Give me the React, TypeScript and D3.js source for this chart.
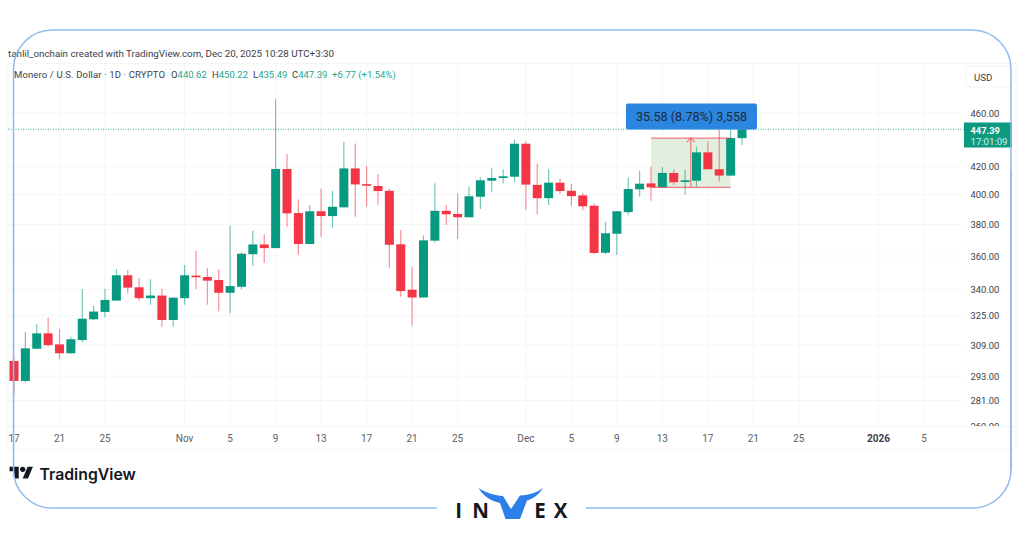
import React from "react";
import * as d3 from "d3";

const firstDay = "2025-10-17";
const opens = [300.7,290.6,307.1,315.3,309.4,304.7,311.7,323.0,327.1,333.5,348.3,341.2,334.9,336.4,322.6,334.9,348.1,347.3,345.5,338.0,341.5,361.1,367.2,364.9,417.9,387.5,367.5,388.7,385.5,391.3,418.3,407.2,405.9,402.6,367.3,339.8,335.3,369.6,389.0,386.9,384.7,398.5,409.6,411.5,412.4,436.4,406.7,397.5,408.2,402.6,399.4,392.4,362.0,374.0,388.1,403.6,407.7,405.0,415.1,408.7,409.6,430.0,417.7,413.2,440.62];
const highs = [303.0,316.2,320.2,323.9,317.6,313.5,340.0,330.5,340.4,352.1,351.5,346.5,345.9,340.2,335.2,354.5,363.3,352.5,351.9,379.2,362.3,375.9,373.6,470.9,428.7,396.8,392.9,404.0,402.6,437.6,436.5,420.1,414.4,404.0,376.4,353.1,373.0,407.8,392.9,400.8,405.4,412.1,418.4,417.7,439.3,438.3,421.9,417.7,411.3,407.5,400.8,394.0,381.6,388.7,411.5,416.7,419.6,419.6,417.7,417.2,433.8,438.3,447.1,447.4,450.22];
const lows = [284.0,290.0,306.9,308.1,301.6,304.7,310.5,322.6,324.1,333.5,337.7,333.5,331.2,318.9,318.9,331.2,340.2,331.2,327.5,326.4,340.0,353.9,355.9,364.9,378.5,360.6,367.5,372.1,377.9,391.3,385.1,391.7,393.0,352.5,335.8,319.5,335.3,368.5,379.7,370.6,384.7,390.2,401.9,407.7,408.6,389.5,386.7,392.9,400.6,392.4,389.3,361.1,361.1,360.6,386.0,398.5,395.8,405.0,406.6,400.1,405.4,417.7,409.1,413.2,435.49];
const closes = [290.6,307.3,315.3,309.0,304.7,312.1,323.3,327.3,333.9,348.3,341.0,334.9,336.4,322.6,335.2,348.3,347.1,345.1,338.0,341.9,361.4,367.2,364.9,417.9,387.3,367.5,388.7,385.5,391.7,418.3,407.0,406.1,402.4,367.0,339.0,335.3,369.8,389.0,386.7,384.7,398.8,409.9,411.5,412.7,436.4,406.9,397.5,408.2,402.4,398.9,392.0,361.9,374.3,388.7,403.8,407.5,405.0,415.1,408.5,409.9,430.0,417.7,413.2,440.7,447.39];

const priceTicks = [460,420,400,380,360,340,325,309,293,281,269];
const dateTickDays = ["2025-10-17","2025-10-21","2025-10-25","2025-11-01","2025-11-05","2025-11-09","2025-11-13","2025-11-17","2025-11-21","2025-11-25","2025-12-01","2025-12-05","2025-12-09","2025-12-13","2025-12-17","2025-12-21","2025-12-25","2026-01-01","2026-01-05"];
const dateTickLabels = ["17","21","25","Nov","5","9","13","17","21","25","Dec","5","9","13","17","21","25","2026","5"];
const boldTicks = ["2026"];
const lastPrice = 447.39;
const measureFrom = "2025-12-12";
const measureTo = "2025-12-19";
const measureLow = 405.0;
const measureHigh = 440.6;
const measureText = "35.58 (8.78%) 3,558";
const headerLine = "tahlil_onchain created with TradingView.com, Dec 20, 2025 10:28 UTC+3:30";
const symbolLine = "Monero / U.S. Dollar · 1D · CRYPTO";
const ohlc = [["O","440.62",171],["H","450.22",212],["L","435.49",253],["C","447.39",292]] as const;
const changeText = "+6.77 (+1.54%)";

const GREEN = "#089981", RED = "#f23645", GRID = "#f4f5f6", TEXT = "#3a3e4a", FRAME = "#8fbbf0", BLUE = "#2b86e0";
const UI = "Roboto, 'Open Sans', sans-serif";

const day = (s: string) => new Date(s + "T00:00:00Z");
const x = d3.scaleUtc().domain([day("2025-10-17"), day("2026-01-05")]).range([14, 924]);
const y = d3.scaleLog().domain([460, 269]).range([113, 426]);
const candles = opens.map((o, i) => ({
  date: d3.utcDay.offset(day(firstDay), i), o, h: highs[i], l: lows[i], c: closes[i],
}));
const BW = 9;

export default function App() {
  const mx0 = x(day(measureFrom)), mx1 = x(day(measureTo));
  const my0 = y(measureHigh), my1 = y(measureLow);
  const mxc = (mx0 + mx1) / 2;
  return (
    <svg width={1024} height={538} viewBox="0 0 1024 538" style={{ position: "absolute", left: 0, top: 0, background: "#fff" }}>
      <defs>
        <clipPath id="pane"><rect x={0} y={64} width={1024} height={362} /></clipPath>
      </defs>
      {/* panel borders */}
      <g stroke={GRID} fill="none">
        <line x1={8} x2={1016} y1={63.5} y2={63.5} />
        <line x1={8} x2={1016} y1={426.5} y2={426.5} />
        <line x1={8} x2={1016} y1={450} y2={450} />
        <line x1={8} x2={8} y1={64} y2={450} />
        <line x1={1016} x2={1016} y1={64} y2={450} />
      </g>
      {/* grid */}
      <g stroke={GRID}>
        {priceTicks.slice(0, -1).map(p => <line key={p} x1={8} x2={962} y1={y(p)} y2={y(p)} />)}
        {dateTickDays.map(d => <line key={d} x1={x(day(d))} x2={x(day(d))} y1={64} y2={426} />)}
      </g>
      {/* last price line */}
      <line x1={8} x2={964} y1={y(lastPrice)} y2={y(lastPrice)} stroke={GREEN} strokeWidth={1} strokeDasharray="1 1.5" opacity={0.8} />
      {/* measure fill */}
      <rect x={mx0} y={my0} width={mx1 - mx0} height={my1 - my0} fill="#e2efdf" />
      {/* candles */}
      <g>
        {candles.map((c, i) => {
          const col = c.c >= c.o ? GREEN : RED;
          const cx = x(c.date);
          const top = y(Math.max(c.o, c.c)), bot = y(Math.min(c.o, c.c));
          return (
            <g key={i}>
              <line x1={cx} x2={cx} y1={y(c.h)} y2={y(c.l)} stroke={col} strokeWidth={1.2} opacity={0.55} />
              <rect x={cx - BW / 2} y={top} width={BW} height={Math.max(bot - top, 1.5)} fill={col} />
            </g>
          );
        })}
      </g>
      {/* measure lines */}
      <g stroke={RED} strokeOpacity={0.65} fill="none" strokeWidth={1.2}>
        <line x1={mx0} x2={mx1} y1={my0} y2={my0} />
        <line x1={mx0} x2={mx1} y1={my1} y2={my1} />
        <line x1={mxc} x2={mxc} y1={my0} y2={my1} />
        <path d={`M${mxc - 4},${my0 + 4}L${mxc},${my0}L${mxc + 4},${my0 + 4}`} />
      </g>
      <rect x={626} y={103.5} width={131} height={26} rx={2} fill={BLUE} />
      <text x={691.5} y={121} textAnchor="middle" fontFamily={UI} fontSize={12.6} fill="#1d2a3a">{measureText}</text>
      {/* header */}
      <text x={8} y={57} fontFamily={UI} fontSize={9.8} fill={TEXT} textLength={326} lengthAdjust="spacing">{headerLine}</text>
      <text x={14} y={78} fontFamily={UI} fontSize={9.5} fill={TEXT} textLength={151} lengthAdjust="spacing">{symbolLine}</text>
      {ohlc.map(([k, v, px]) => (
        <text key={k} x={px} y={78} fontFamily={UI} fontSize={9.5} fill="#22a68f">
          <tspan fill={TEXT}>{k}</tspan>{v}
        </text>
      ))}
      <text x={332} y={78} fontFamily={UI} fontSize={9.5} fill="#22a68f">{changeText}</text>
      {/* price axis */}
      <rect x={966} y={66} width={46} height={21} rx={3} fill="#fff" stroke="#f0f1f3" />
      <text x={974} y={80.5} fontFamily={UI} fontSize={9.6} fill={TEXT}>USD</text>
      <g clipPath="url(#pane)">
        {priceTicks.map(p => (
          <text key={p} x={970.5} y={y(p) + 3.5} fontFamily={UI} fontSize={9.4} fill={TEXT}>{p.toFixed(2)}</text>
        ))}
      </g>
      <rect x={964} y={122.5} width={48} height={25} fill="#0c9a80" />
      <text x={970.5} y={133.5} fontFamily={UI} fontSize={9.3} fontWeight={700} fill="#fff">{lastPrice.toFixed(2)}</text>
      <text x={970.5} y={144.5} fontFamily={UI} fontSize={9.6} fill="#d5efe9">17:01:09</text>
      {/* time axis */}
      {dateTickDays.map((d, i) => (
        <text key={d} x={x(day(d))} y={441.5} textAnchor="middle" fontFamily={UI} fontSize={10}
          fontWeight={boldTicks.includes(dateTickLabels[i]) ? 700 : 400}
          fill={boldTicks.includes(dateTickLabels[i]) ? TEXT : "#5a5e68"}>{dateTickLabels[i]}</text>
      ))}
      {/* TradingView logo */}
      <g transform="translate(9.5,464) scale(0.66)" fill="#131722">
        <path d="M14 22H7V11H0V4h14v18zM28 22h-8l7.5-18h8L28 22z" />
        <circle cx={20} cy={8} r={4} />
      </g>
      <text x={39.5} y={479.5} fontFamily="Inter, Roboto, sans-serif" fontWeight={600} fontSize={15.8} fill="#131722">TradingView</text>
      {/* frame */}
      <path d="M437,508H52A38.5,38.5 0 0 1 13.5,469.5V69A39,39 0 0 1 52.5,30H972A39,39 0 0 1 1011,69V469.5A38.5,38.5 0 0 1 972.5,508H586"
        fill="none" stroke={FRAME} strokeWidth={1.5} />
      <line x1={13.7} x2={13.7} y1={170} y2={470} stroke={FRAME} strokeWidth={1} opacity={0.7} />
      <line x1={1011} x2={1011} y1={170} y2={470} stroke={FRAME} strokeWidth={1.6} />
      {/* INVEX logo */}
      <g fontFamily="'Open Sans', Lato, sans-serif" fontWeight={700} fontSize={20.5} fill="#16181d">
        <text x={458.7} y={518} textAnchor="middle">I</text>
        <text x={480.5} y={518} textAnchor="middle">N</text>
        <text x={540} y={518} textAnchor="middle">E</text>
        <text x={560.5} y={518} textAnchor="middle">X</text>
      </g>
      <path d="M478.5,488C486,493 495,495.5 503,496L511,509L520,495.5C530,495 537,492.5 543,488C538,496 531,499.5 527,500.5L520,519H505.5L500,503C491,501 483,496 478.5,488Z" fill="#2c7fe8" />
    </svg>
  );
}
